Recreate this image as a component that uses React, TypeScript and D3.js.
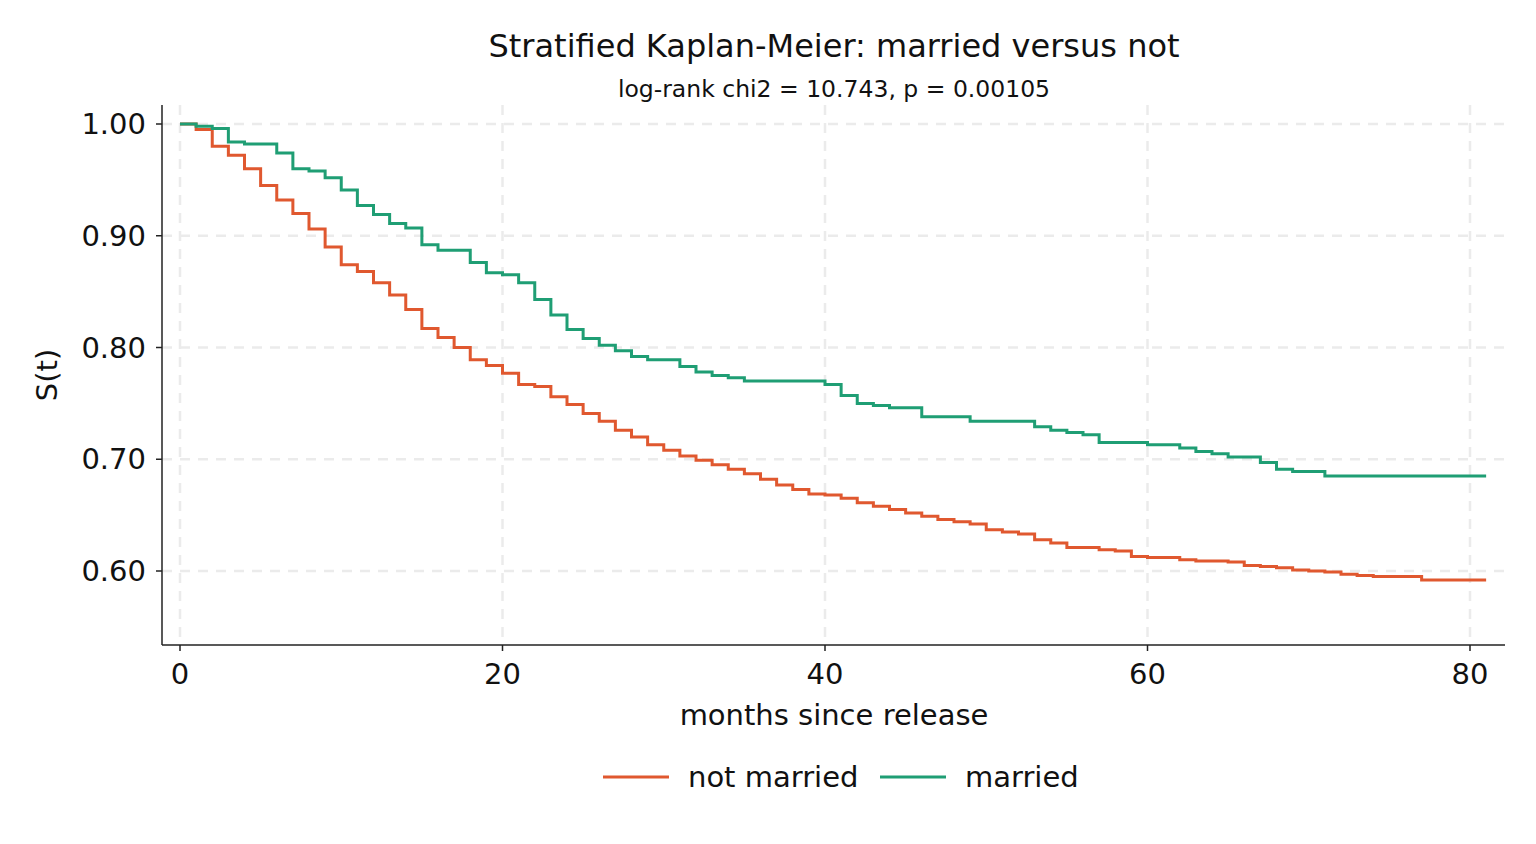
import React from "react";
import * as d3 from "d3";

const months = d3.range(0, 82);
const notMarried = [1.0,0.995,0.98,0.972,0.96,0.945,0.932,0.92,0.906,0.89,0.874,0.868,0.858,0.847,0.834,0.817,0.809,0.8,0.789,0.784,0.777,0.767,0.765,0.756,0.749,0.741,0.734,0.726,0.72,0.713,0.708,0.703,0.699,0.695,0.691,0.687,0.682,0.677,0.673,0.669,0.668,0.665,0.661,0.658,0.655,0.652,0.649,0.646,0.644,0.642,0.637,0.635,0.633,0.628,0.625,0.621,0.621,0.619,0.618,0.613,0.612,0.612,0.61,0.609,0.609,0.608,0.605,0.604,0.603,0.601,0.6,0.599,0.597,0.596,0.595,0.595,0.595,0.592,0.592,0.592,0.592,0.592];
const married = [1.0,0.998,0.996,0.984,0.982,0.982,0.974,0.96,0.958,0.952,0.941,0.927,0.919,0.911,0.907,0.892,0.887,0.887,0.876,0.867,0.865,0.858,0.843,0.829,0.816,0.808,0.802,0.797,0.792,0.789,0.789,0.783,0.778,0.775,0.773,0.77,0.77,0.77,0.77,0.77,0.767,0.757,0.75,0.748,0.746,0.746,0.738,0.738,0.738,0.734,0.734,0.734,0.734,0.729,0.726,0.724,0.722,0.715,0.715,0.715,0.713,0.713,0.71,0.707,0.705,0.702,0.702,0.697,0.691,0.689,0.689,0.685,0.685,0.685,0.685,0.685,0.685,0.685,0.685,0.685,0.685,0.685];
const xTicks = [0, 20, 40, 60, 80];
const yTicks = [0.6, 0.7, 0.8, 0.9, 1.0];
const seriesNames = ["not married", "married"];
const colors = ["#e0582f", "#1f9e74"];

export default function App() {
  const W = 1536, H = 844;
  const left = 162, right = 1505, top = 105, bottom = 645;
  const x = d3.scaleLinear().domain([0, 80]).range([180, 1470]);
  const y = d3.scaleLinear().domain([0.6, 1.0]).range([571, 124]);
  const line = d3.line<number>().x((_, i) => x(months[i])).y((d) => y(d)).curve(d3.curveStepAfter);
  const font = "DejaVu Sans, sans-serif";
  const data = [notMarried, married];
  return (
    <svg width={W} height={H} style={{ position: "absolute", left: 0, top: 0, background: "#fff" }} fontFamily={font}>
      {xTicks.map((t) => (
        <line key={"gx" + t} x1={x(t)} x2={x(t)} y1={top} y2={bottom} stroke="#ebebeb" strokeWidth={2.5} strokeDasharray="10,8" />
      ))}
      {yTicks.map((t) => (
        <line key={"gy" + t} x1={left} x2={right} y1={y(t)} y2={y(t)} stroke="#ebebeb" strokeWidth={2.5} strokeDasharray="10,8" />
      ))}
      {data.map((s, k) => (
        <path key={k} d={line(s) || ""} fill="none" stroke={colors[k]} strokeWidth={3} />
      ))}
      <line x1={left} x2={left} y1={top} y2={bottom} stroke="#222" strokeWidth={1.5} />
      <line x1={left} x2={right} y1={bottom} y2={bottom} stroke="#222" strokeWidth={1.5} />
      {xTicks.map((t) => (
        <g key={"xt" + t}>
          <line x1={x(t)} x2={x(t)} y1={bottom} y2={bottom + 6} stroke="#222" strokeWidth={1.5} />
          <text x={x(t)} y={684} textAnchor="middle" fontSize={29} fill="#111">{t}</text>
        </g>
      ))}
      {yTicks.map((t) => (
        <g key={"yt" + t}>
          <line x1={left - 6} x2={left} y1={y(t)} y2={y(t)} stroke="#222" strokeWidth={1.5} />
          <text x={146} y={y(t) + 10} textAnchor="end" fontSize={29} fill="#111">{t.toFixed(2)}</text>
        </g>
      ))}
      <text x={834} y={725} textAnchor="middle" fontSize={29} fill="#111">months since release</text>
      <text transform="translate(57,375) rotate(-90)" textAnchor="middle" fontSize={29} fill="#111">S(t)</text>
      <text x={834} y={57} textAnchor="middle" fontSize={32} fill="#111">Stratified Kaplan-Meier: married versus not</text>
      <text x={834} y={97} textAnchor="middle" fontSize={23.5} fill="#111">log-rank chi2 = 10.743, p = 0.00105</text>
      {seriesNames.map((n, k) => {
        const lx = k === 0 ? 603 : 880;
        return (
          <g key={n}>
            <line x1={lx} x2={lx + 66} y1={777} y2={777} stroke={colors[k]} strokeWidth={3} />
            <text x={lx + 85} y={787} fontSize={29} fill="#111">{n}</text>
          </g>
        );
      })}
    </svg>
  );
}
